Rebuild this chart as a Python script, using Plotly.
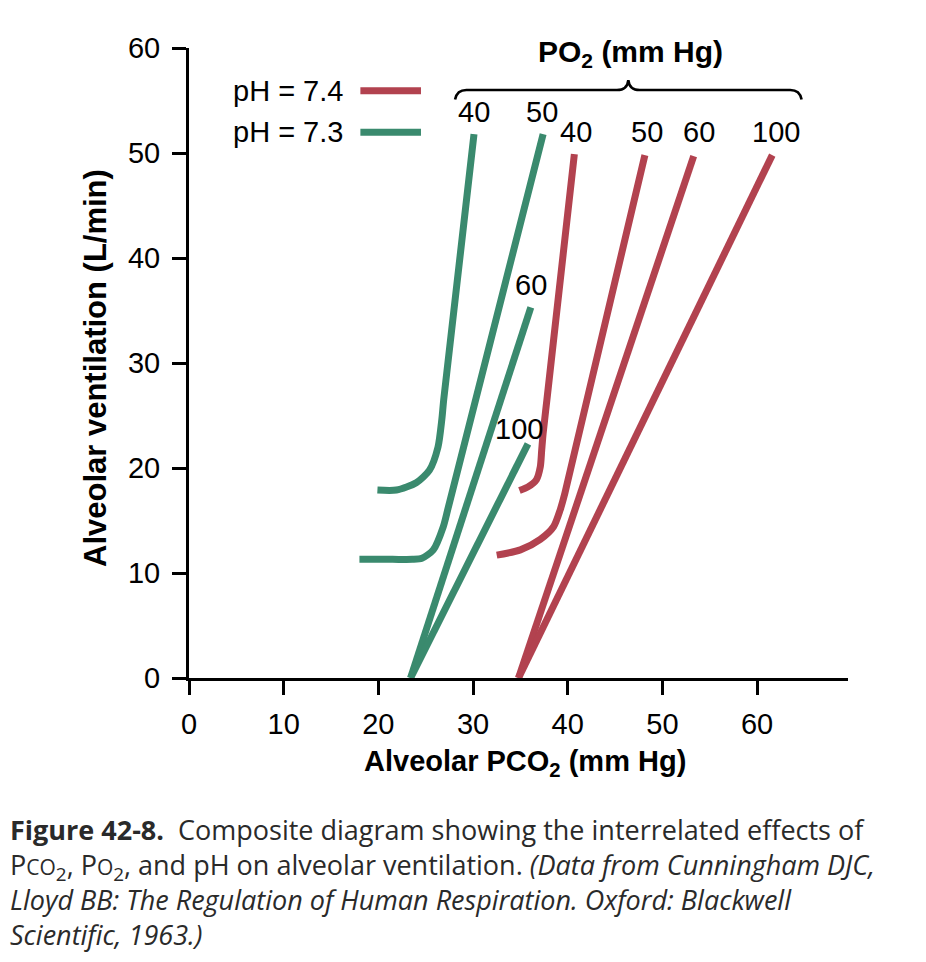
import plotly.graph_objects as go

RED = "#B2424F"
GREEN = "#3A8A6E"
FONT = "Liberation Sans, Arial, sans-serif"
CAP_FONT = "Open Sans, Lato, sans-serif"

# ---------------- data ----------------
# pH = 7.4 (red) curves, keyed by alveolar PO2 (mm Hg)
red_po2 = ["40", "50", "60", "100"]
red_40_x = [34.9, 35.8, 36.7, 37.1, 37.25, 37.4, 37.8, 40.7]
red_40_y = [17.85, 18.2, 18.9, 20.1, 21.7, 23.3, 26.5, 49.9]
red_50_x = [32.5, 35.0, 37.1, 38.5, 39.2, 39.7, 48.15]
red_50_y = [11.7, 12.2, 13.2, 14.4, 16.0, 17.6, 49.8]
red_60_x = [34.8, 53.3]
red_60_y = [0.0, 49.7]
red_100_x = [34.8, 61.6]
red_100_y = [0.0, 49.8]

# pH = 7.3 (green) curves
green_po2 = ["40", "50", "60", "100"]
green_40_x = [19.9, 21.9, 24.0, 25.4, 26.3, 26.7, 26.9, 30.1]
green_40_y = [17.9, 17.9, 18.6, 19.8, 22.0, 24.6, 26.5, 51.8]
green_50_x = [18.0, 21.5, 23.6, 24.6, 25.8, 26.85, 27.4, 37.4]
green_50_y = [11.3, 11.3, 11.3, 11.4, 12.2, 14.4, 16.3, 51.8]
green_60_x = [23.4, 36.1]
green_60_y = [0.0, 35.3]
green_100_x = [23.4, 35.8]
green_100_y = [0.0, 22.3]

x_ticks = [0, 10, 20, 30, 40, 50, 60]
y_ticks = [0, 10, 20, 30, 40, 50, 60]

# ---------------- styling / layout ----------------
L, R, T, B = 189, 78, 48, 284
W, H = 926, 962
PW, PH = W - L - R, H - T - B


def px(x):
    return (x - L) / PW


def py(y):
    return (H - B - y) / PH


red_series = [(red_40_x, red_40_y), (red_50_x, red_50_y),
              (red_60_x, red_60_y), (red_100_x, red_100_y)]
green_series = [(green_40_x, green_40_y), (green_50_x, green_50_y),
                (green_60_x, green_60_y), (green_100_x, green_100_y)]
# pixel offsets of each PO2 label from the top end of its curve
red_label_shift = [(2, 22), (2, 23), (5, 24), (4, 23)]
green_label_shift = [(0, 22), (-1, 22), (0, 22), (-9, 15)]

fig = go.Figure()
annotations = []

for series, names, shifts, color in [
    (green_series, green_po2, green_label_shift, GREEN),
    (red_series, red_po2, red_label_shift, RED),
]:
    for (xs, ys), name, (dx, dy) in zip(series, names, shifts):
        fig.add_trace(go.Scatter(
            x=xs, y=ys, mode="lines", showlegend=False, hoverinfo="skip",
            line=dict(color=color, width=7, shape="spline", smoothing=0.7),
        ))
        annotations.append(dict(
            x=xs[-1], y=ys[-1], xref="x", yref="y", text=name, showarrow=False,
            xanchor="center", yanchor="middle", xshift=dx, yshift=dy,
            font=dict(family=FONT, size=29, color="black"),
        ))

# legend (text on the left, swatch on the right)
legend_items = [("pH = 7.4", RED, 55.94), ("pH = 7.3", GREEN, 51.98)]
shapes = []
for label, color, yy in legend_items:
    annotations.append(dict(
        x=16.5, y=yy, xref="x", yref="y", text=label, showarrow=False,
        xanchor="right", yanchor="middle",
        font=dict(family=FONT, size=29, color="black"),
    ))
    shapes.append(dict(type="line", xref="x", yref="y", x0=18.1, x1=24.5,
                       y0=yy, y1=yy, line=dict(color=color, width=7)))

# brace over the PO2 labels
brace = ("M 28.1,55.1 Q 28.3,56.0 29.3,56.0 L 45.2,56.0 "
         "Q 46.3,56.0 46.4,56.95 Q 46.5,56.0 47.6,56.0 L 63.5,56.0 "
         "Q 64.5,56.0 64.7,55.1")
shapes.append(dict(type="path", xref="x", yref="y", path=brace,
                   line=dict(color="black", width=2.6)))

annotations.append(dict(
    x=46.6, y=59.45, xref="x", yref="y", showarrow=False,
    text="<b>PO<sub>2</sub> (mm Hg)</b>", xanchor="center", yanchor="middle",
    font=dict(family=FONT, size=30, color="black"),
))

# axis titles (paper coordinates)
annotations.append(dict(
    x=px(525), y=py(763), xref="paper", yref="paper", showarrow=False,
    text="<b>Alveolar PCO<sub>2</sub> (mm Hg)</b>", xanchor="center", yanchor="middle",
    font=dict(family=FONT, size=29, color="black"),
))
annotations.append(dict(
    x=px(95), y=py(368), xref="paper", yref="paper", showarrow=False, textangle=-90,
    text="<b>Alveolar ventilation (L/min)</b>", xanchor="center", yanchor="middle",
    font=dict(family=FONT, size=31, color="black"),
))

# caption (one block, line spacing ~34 px)
small = "<span style='font-size:21px'>"
caption_lines = [
    "<b>Figure 42-8.</b>  Composite diagram showing the interrelated effects of",
    f"P{small}CO</span><sub>2</sub>, P{small}O</span><sub>2</sub>, and pH on alveolar ventilation. "
    "<i>(Data from Cunningham DJC,</i>",
    "<i>Lloyd BB: The Regulation of Human Respiration. Oxford: Blackwell</i>",
    "<i>Scientific, 1963.)</i>",
]
annotations.append(dict(
    x=px(8), y=py(882), xref="paper", yref="paper", showarrow=False,
    text="<br>".join(caption_lines), align="left",
    xanchor="left", yanchor="middle",
    font=dict(family=CAP_FONT, size=27, color="#2a2a2a"),
))

axis_common = dict(
    showline=True, linecolor="black", linewidth=3,
    ticks="outside", tickcolor="black", tickwidth=3, ticklen=14,
    showgrid=False, zeroline=False, mirror=False,
    tickfont=dict(family=FONT, size=29, color="black"),
)

fig.update_layout(
    width=W, height=H,
    margin=dict(l=L, r=R, t=T, b=B),
    paper_bgcolor="white", plot_bgcolor="white",
    xaxis=dict(range=[0, 69.6], tickvals=x_ticks, ticklabelstandoff=4, **axis_common),
    yaxis=dict(range=[0, 60], tickvals=y_ticks, ticklabelstandoff=6, **axis_common),
    annotations=annotations,
    shapes=shapes,
    showlegend=False,
)

fig.write_html("out.html")
